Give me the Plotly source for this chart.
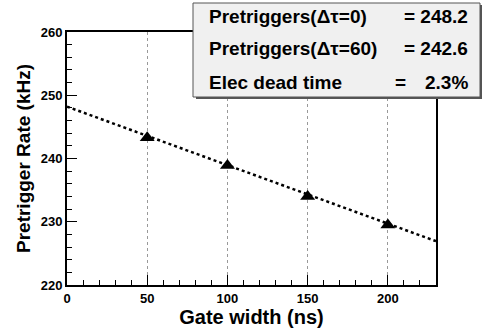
import plotly.graph_objects as go

# measured points
gate_width = [50, 100, 150, 200]
rate = [243.3, 238.9, 234.0, 229.5]

# linear fit
fit_x = [0, 230]
fit_p0 = 248.2
fit_p1 = -0.0925
fit_y = [fit_p0 + fit_p1 * x for x in fit_x]

labels = ["Pretriggers(\u0394\u03c4=0)", "Pretriggers(\u0394\u03c4=60)", "Elec dead time"]
values = ["= 248.2", "= 242.6", "2.3%"]

FONT = "Liberation Sans, Arial, sans-serif"

fig = go.Figure()

fig.add_trace(go.Scatter(x=fit_x, y=fit_y, mode="lines",
                         line=dict(color="black", width=2.5, dash="dot"),
                         showlegend=False, hoverinfo="skip"))
fig.add_trace(go.Scatter(x=gate_width, y=rate, mode="markers",
                         marker=dict(symbol="triangle-up", size=13, color="black"),
                         showlegend=False))

W, H = 485, 328
L, R, T, B = 67, 49, 32, 43
pw, ph = W - L - R, H - T - B


def px(x):
    return (x - L) / pw


def py(y):
    return (H - B - y) / ph


# stats box with shadow
fig.add_shape(type="rect", xref="paper", yref="paper",
              x0=px(196), x1=px(482), y0=py(99), y1=py(5),
              fillcolor="#555555", line=dict(width=0), layer="above")
fig.add_shape(type="rect", xref="paper", yref="paper",
              x0=px(193), x1=px(480), y0=py(97), y1=py(3),
              fillcolor="#f0f0f0", line=dict(color="#555555", width=1), layer="above")

rows_y = [17, 49, 82]
for lab, val, yy in zip(labels, values, rows_y):
    fig.add_annotation(xref="paper", yref="paper", x=px(207), y=py(yy),
                       text="<b>%s</b>" % lab, showarrow=False,
                       xanchor="left", yanchor="middle",
                       font=dict(family=FONT, size=19, color="black"))
    fig.add_annotation(xref="paper", yref="paper", x=px(470), y=py(yy),
                       text="<b>%s</b>" % val, showarrow=False,
                       xanchor="right", yanchor="middle",
                       font=dict(family=FONT, size=19, color="black"))
fig.add_annotation(xref="paper", yref="paper", x=px(400), y=py(82),
                   text="<b>=</b>", showarrow=False,
                   xanchor="center", yanchor="middle",
                   font=dict(family=FONT, size=19, color="black"))

fig.update_layout(
    width=W, height=H,
    margin=dict(l=L, r=R, t=T, b=B, autoexpand=False),
    paper_bgcolor="white", plot_bgcolor="white",
    font=dict(family=FONT, color="black"),
)

fig.update_xaxes(
    range=[0, 230], tickvals=[0, 50, 100, 150, 200],
    ticktext=["<b>0</b>", "<b>50</b>", "<b>100</b>", "<b>150</b>", "<b>200</b>"],
    ticks="inside", ticklen=10, tickwidth=1, tickcolor="black",
    minor=dict(dtick=10, tick0=0, ticks="inside", ticklen=5, tickcolor="black", showgrid=False),
    showgrid=True, gridcolor="#999999", griddash="dot", gridwidth=1,
    showline=True, linecolor="black", linewidth=2, mirror=True,
    zeroline=False, automargin=False,
    tickfont=dict(family=FONT, size=13),
    title=dict(text="<b>Gate width (ns)</b>", font=dict(family=FONT, size=20), standoff=1),
)
fig.update_yaxes(
    range=[220, 260], tickvals=[220, 230, 240, 250, 260],
    ticktext=["<b>220</b>", "<b>230</b>", "<b>240</b>", "<b>250</b>", "<b>260</b>"],
    ticks="inside", ticklen=10, tickwidth=1, tickcolor="black",
    minor=dict(dtick=2, tick0=220, ticks="inside", ticklen=5, tickcolor="black", showgrid=False),
    showgrid=False,
    showline=True, linecolor="black", linewidth=2, mirror=True,
    zeroline=False, automargin=False,
    tickfont=dict(family=FONT, size=13),
    title=dict(text="<b>Pretrigger Rate (kHz)</b>", font=dict(family=FONT, size=19), standoff=5),
)

# the page body has a default margin; drop it so the figure sits at the window corner
fig.write_html("out.html", config={"displayModeBar": False},
               post_script="document.body.style.margin='0';")
